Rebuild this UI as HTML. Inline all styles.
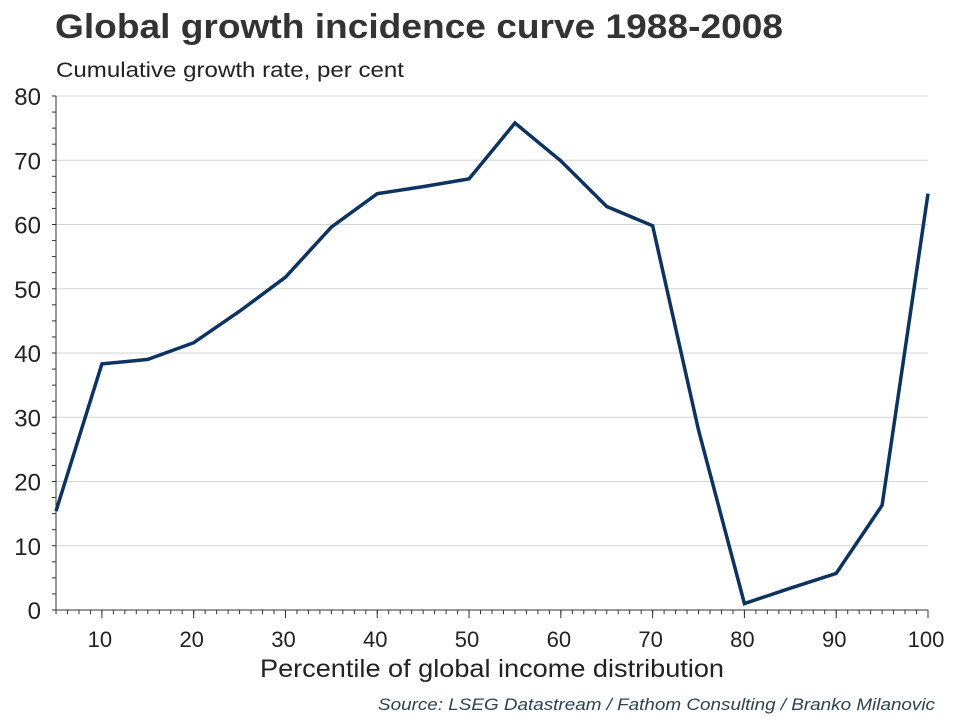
<!DOCTYPE html>
<html><head><meta charset="utf-8"><style>
body{margin:0;background:#fff;font-family:"Liberation Sans",Arial,sans-serif}
svg text{font-family:"Liberation Sans",Arial,sans-serif}
</style></head><body>
<svg id="c" width="960" height="720" viewBox="0 0 960 720">
<text x="55" y="38" font-size="34" font-weight="bold" fill="#333" textLength="728" lengthAdjust="spacingAndGlyphs">Global growth incidence curve 1988-2008</text>
<text x="56" y="77" font-size="21" fill="#222" textLength="348" lengthAdjust="spacingAndGlyphs">Cumulative growth rate, per cent</text>
<g id="grid"></g>
<g id="axes"></g>
<text x="260" y="677" font-size="25" fill="#222" textLength="464" lengthAdjust="spacingAndGlyphs">Percentile of global income distribution</text>
<text x="378" y="710" font-size="17" font-style="italic" fill="#2f4250" textLength="557" lengthAdjust="spacingAndGlyphs">Source: LSEG Datastream / Fathom Consulting / Branko Milanovic</text>
</svg>
<script>
const percentiles=[5,10,15,20,25,30,35,40,45,50,55,60,65,70,75,80,85,90,95,100];
const growth=[15.4,38.3,39,41.6,46.5,51.8,59.6,64.8,65.9,67.1,75.8,69.9,62.8,59.8,28,1,3.4,5.7,16.3,64.8];
const yTicks=[0,10,20,30,40,50,60,70,80];
const xTicks=[10,20,30,40,50,60,70,80,90,100];
const NS="http://www.w3.org/2000/svg";
const X=v=>56+(v-5)*(928-56)/95;
const Y=v=>610-v*(610-96)/80;
function mk(t,a,p){const e=document.createElementNS(NS,t);for(const k in a)e.setAttribute(k,a[k]);p.appendChild(e);return e;}
const svg=document.getElementById('c'),grid=document.getElementById('grid'),axes=document.getElementById('axes');
yTicks.forEach(v=>{
 if(v>0){const g=mk('line',{x1:56,x2:928,y1:Y(v),y2:Y(v),stroke:'#d4d4d4','stroke-width':1},grid);
 
 }
 const t=mk('text',{x:41,y:Y(v)+9,'font-size':24,fill:'#222','text-anchor':'end'},axes);t.textContent=v;
 
 
});
for(let v=0;v<=80;v+=2.5){mk('line',{x1:52,x2:56,y1:Y(v),y2:Y(v),stroke:'#333'},axes);}
for(let v=5;v<=100.01;v+=1.25){mk('line',{x1:X(v),x2:X(v),y1:610,y2:614,stroke:'#333'},axes);}
xTicks.forEach(v=>{
 mk('line',{x1:X(v),x2:X(v),y1:610,y2:618,stroke:'#333'},axes);
 const t=mk('text',{x:X(v)-2,y:647,'font-size':22,fill:'#222','text-anchor':'middle'},axes);t.textContent=v;
 
 
});
mk('line',{x1:56,x2:56,y1:96,y2:610,stroke:'#333'},axes);
mk('line',{x1:56,x2:928,y1:610,y2:610,stroke:'#333'},axes);
const pl=mk('polyline',{points:percentiles.map((p,i)=>X(p)+','+Y(growth[i])).join(' '),fill:'none',stroke:'#0d3360','stroke-width':3.5,'stroke-linejoin':'miter'},svg);


</script>
</body></html>
